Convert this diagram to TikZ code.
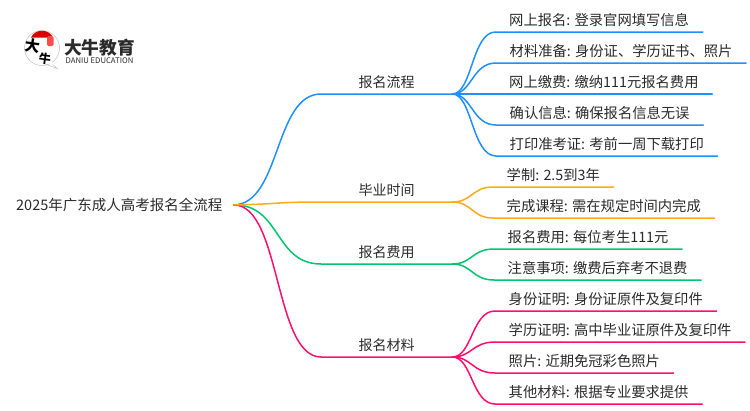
\documentclass[tikz,border=0pt]{standalone}
\usepackage{fontspec}
\setmainfont{Noto Sans CJK SC}
\definecolor{flowblue}{HTML}{1E90FF}
\definecolor{timeorange}{HTML}{FFA91F}
\definecolor{feegreen}{HTML}{00C46E}
\definecolor{docpink}{HTML}{FF0F6E}
\definecolor{inkgray}{HTML}{2B2B2B}
\tikzset{
  roottext/.style={anchor=west,inner xsep=11pt,inner ysep=0pt,text=inkgray,font=\fontsize{14.5}{16}\selectfont},
  branchtext/.style={anchor=south west,inner xsep=0pt,inner ysep=4pt,minimum width=131pt,align=center,text height=11pt,text depth=2pt,text=inkgray,font=\fontsize{14}{16}\selectfont},
  leaftext/.style={anchor=south west,inner xsep=13.5pt,inner ysep=4pt,text height=11pt,text depth=2pt,text=inkgray,font=\fontsize{14.3}{16}\selectfont},
  wire/.style={line width=1.5pt,line cap=round}
}
\begin{document}
\begin{tikzpicture}[x=1pt,y=-1pt]
    \useasboundingbox (0,0) rectangle (750,410);
    % logo
    \draw [black!25,fill=white,line width=.5pt] (50,62) -- (57.3,68.6) -- (45,64);
    \draw [black!25,line width=.5pt] (42,48) circle [radius=17.5];
    \fill [white] (47,63) -- (52,61.5) -- (54,65) -- cycle;
    \fill [red!85!black] (31,37.5) .. controls (35,28.5) and (49,28.5) .. (53,37.5) -- cycle;
    \fill [red!70!white,rounded corners=1.5pt] (47,36) rectangle (53.5,46);
    \node [inner sep=0pt,rotate=-8,text=black,font=\bfseries\fontsize{15}{15}\selectfont] (logoda) at (32.5,46) {大};
    \node [inner sep=0pt,rotate=-8,text=black,font=\bfseries\fontsize{12}{12}\selectfont] (logoniu) at (45,58.5) {牛};
    \node [inner sep=0pt,text=inkgray,font=\bfseries\fontsize{17.7}{18}\selectfont] (logoname) at (99.5,48) {大牛教育};
    \node [inner sep=0pt,text=inkgray,font=\fontsize{7.7}{8}\selectfont] (logosub) at (99.5,60.5) {DANIU EDUCATION};
    % root and branches
    \node [roottext] (root) at (5,205) {2025年广东成人高考报名全流程};
    \node [branchtext] (flow) at (321,94) {报名流程};
    \node [branchtext] (grad) at (321,202) {毕业时间};
    \node [branchtext] (fee) at (321,264) {报名费用};
    \node [branchtext] (doc) at (321,357) {报名材料};
    % leaves
    \node [leaftext] (flowa) at (495.5,32) {网上报名: 登录官网填写信息};
    \node [leaftext] (flowb) at (496,63) {材料准备: 身份证、学历证书、照片};
    \node [leaftext] (flowc) at (495.5,94) {网上缴费: 缴纳111元报名费用};
    \node [leaftext] (flowd) at (496,125) {确认信息: 确保报名信息无误};
    \node [leaftext] (flowe) at (496,156) {打印准考证: 考前一周下载打印};
    \node [leaftext] (grada) at (493,187) {学制: 2.5到3年};
    \node [leaftext] (gradb) at (493,218) {完成课程: 需在规定时间内完成};
    \node [leaftext] (feea) at (494,249) {报名费用: 每位考生111元};
    \node [leaftext] (feeb) at (494,280) {注意事项: 缴费后弃考不退费};
    \node [leaftext] (doca) at (495,311) {身份证明: 身份证原件及复印件};
    \node [leaftext] (docb) at (495,342) {学历证明: 高中毕业证原件及复印件};
    \node [leaftext] (docc) at (495,373) {照片: 近期免冠彩色照片};
    \node [leaftext] (docd) at (495,404) {其他材料: 根据专业要求提供};
    % blue
    \draw [wire,flowblue] (root.east) .. controls (281,204) and (274,94) .. (flow.south west) -- (flow.south east);
    \draw [wire,flowblue] (flow.south east) .. controls (472,94) and (472,32) .. (flowa.south west) -- (flowa.south east);
    \draw [wire,flowblue] (flow.south east) .. controls (472,94) and (472,63) .. (flowb.south west) -- (flowb.south east);
    \draw [wire,flowblue] (flow.south east) -- (flowc.south west) -- (flowc.south east);
    \draw [wire,flowblue] (flow.south east) .. controls (472,94) and (472,125) .. (flowd.south west) -- (flowd.south east);
    \draw [wire,flowblue] (flow.south east) .. controls (472,94) and (472,156) .. (flowe.south west) -- (flowe.south east);
    % green
    \draw [wire,feegreen] (root.east) .. controls (281,204) and (274,264) .. (fee.south west) -- (fee.south east);
    \draw [wire,feegreen] (fee.south east) .. controls (472,264) and (472,249) .. (feea.south west) -- (feea.south east);
    \draw [wire,feegreen] (fee.south east) .. controls (472,264) and (472,280) .. (feeb.south west) -- (feeb.south east);
    % pink
    \draw [wire,docpink] (root.east) .. controls (281,204) and (274,357) .. (doc.south west) -- (doc.south east);
    \draw [wire,docpink] (doc.south east) .. controls (472,357) and (472,311) .. (doca.south west) -- (doca.south east);
    \draw [wire,docpink] (doc.south east) .. controls (472,357) and (472,342) .. (docb.south west) -- (docb.south east);
    \draw [wire,docpink] (doc.south east) .. controls (472,357) and (472,373) .. (docc.south west) -- (docc.south east);
    \draw [wire,docpink] (doc.south east) .. controls (472,357) and (472,404) .. (docd.south west) -- (docd.south east);
    % orange
    \draw [wire,timeorange] (root.east) .. controls (281,204) and (274,202) .. (grad.south west) -- (grad.south east);
    \draw [wire,timeorange] (grad.south east) .. controls (472,202) and (472,187) .. (grada.south west) -- (grada.south east);
    \draw [wire,timeorange] (grad.south east) .. controls (472,202) and (472,218) .. (gradb.south west) -- (gradb.south east);
\end{tikzpicture}
\end{document}
